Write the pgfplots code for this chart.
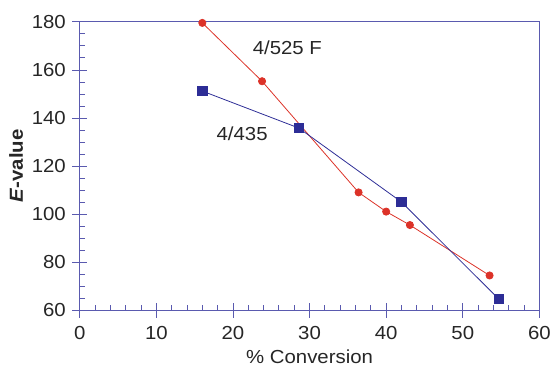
\documentclass[border=0pt]{standalone}
\usepackage{fontspec}
\setmainfont{Liberation Sans}[FakeStretch=1.08]
\usepackage{pgfplots}
\pgfplotsset{compat=1.18}
\definecolor{axblue}{RGB}{90,90,175}
\definecolor{serblue}{RGB}{45,45,150}
\definecolor{serred}{RGB}{220,50,40}
\begin{document}
\begin{tikzpicture}
\begin{axis}[
  scale only axis,
  width=461bp, height=289bp,
  xmin=0, xmax=60, ymin=60, ymax=180,
  xtick={0,10,...,60}, ytick={60,80,...,180},
  minor x tick num=4, minor y tick num=3,
  xtick pos=bottom, ytick pos=left,
  tick align=center,
  major tick length=15bp, minor tick length=5bp,
  minor x tick style={yshift=2.5bp},
  minor y tick style={xshift=2.5bp},
  every tick/.style={axblue, line width=0.9pt},
  axis line style={axblue, line width=0.9pt},
  /pgf/number format/assume math mode=true,
  tick label style={font=\fontsize{19}{22}\selectfont, text=black!85},
  xticklabel style={yshift=-5bp},
  yticklabel style={xshift=-3bp},
  xlabel={\% Conversion},
  ylabel={\textbf{\textit{E}-value}},
  label style={font=\fontsize{19}{22}\selectfont, text=black!85},
  xlabel style={yshift=-4bp},
  ylabel style={yshift=2bp},
  clip=false,
]
\addplot[serred, line width=0.8pt, mark=*, mark size=3.6bp, mark options={solid, fill=serred, draw=serred}]
  coordinates {(16,179.6) (23.8,155.3) (36.4,109) (40,101) (43.1,95.4) (53.5,74.4)};
\addplot[serblue, line width=0.8pt, mark=square*, mark size=4.8bp, mark options={solid, fill=serblue, draw=serblue}]
  coordinates {(16,151.2) (28.6,135.8) (42,105) (54.7,64.6)};
\node[font=\fontsize{19}{22}\selectfont, text=black!85] at (axis cs:27.1,169.2) {4/525 F};
\node[font=\fontsize{19}{22}\selectfont, text=black!85] at (axis cs:21.2,133.5) {4/435};
\end{axis}
\path (current axis.south west) ++(-80bp,-56bp) coordinate (bbA);
\path (current axis.north east) ++(13bp,22bp) coordinate (bbB);
\path (bbA) rectangle (bbB);
\end{tikzpicture}
\end{document}
